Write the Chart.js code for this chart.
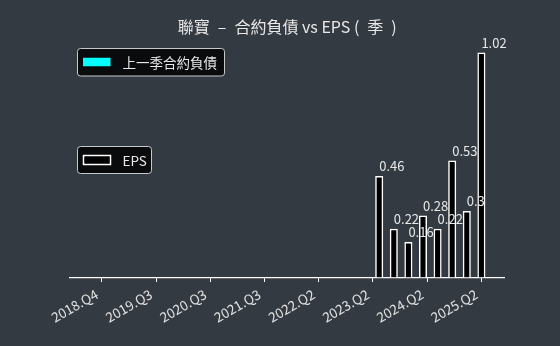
<!DOCTYPE html>
<html>
<head>
<meta charset="utf-8">
<script src="https://cdn.jsdelivr.net/npm/chart.js@4.4.1/dist/chart.umd.min.js"></script>
<style>
  html, body { margin: 0; padding: 0; background: #343a42; }
</style>
</head>
<body>
<canvas id="chart" width="560" height="346"></canvas>
<script>
var FONT = "'Noto Sans CJK TC', 'Noto Sans', sans-serif";

// 季度 (x 軸類別)
var quarters = [
    '2018.Q4',
    '2019.Q1', '2019.Q2', '2019.Q3', '2019.Q4',
    '2020.Q1', '2020.Q2', '2020.Q3', '2020.Q4',
    '2021.Q1', '2021.Q2', '2021.Q3', '2021.Q4',
    '2022.Q1', '2022.Q2', '2022.Q3', '2022.Q4',
    '2023.Q1', '2023.Q2', '2023.Q3', '2023.Q4',
    '2024.Q1', '2024.Q2', '2024.Q3', '2024.Q4',
    '2025.Q1', '2025.Q2'
];

// EPS (只有 2023.Q3 之後有值)
var eps = [
    null,
    null, null, null, null,
    null, null, null, null,
    null, null, null, null,
    null, null, null, null,
    null, null, 0.46, 0.22,
    0.16, 0.28, 0.22, 0.53,
    0.3, 1.02
];

// 上一季合約負債 (圖上看不到任何值)
var prevLiab = [
    null,
    null, null, null, null,
    null, null, null, null,
    null, null, null, null,
    null, null, null, null,
    null, null, null, null,
    null, null, null, null,
    null, null
];

// x 軸刻度位置 (類別索引) 與標籤
var tickPositions = [0, 3.714, 7.429, 11.143, 14.857, 18.571, 22.286, 26];
var tickLabels = ['2018.Q4', '2019.Q3', '2020.Q3', '2021.Q3', '2022.Q2', '2023.Q2', '2024.Q2', '2025.Q2'];

function toPoints(arr) {
    return arr.map(function(v, i) { return { x: i, y: v }; });
}

// 兩個分開的圖例框
var boxLegend = {
    id: 'boxLegend',
    afterDraw: function(chart) {
        var ctx = chart.ctx;
        var boxes = [
            { x: 77.5, y: 48.5, w: 147, h: 27.5 },
            { x: 77.5, y: 146.5, w: 74, h: 27 }
        ];
        chart.data.datasets.forEach(function(ds, i) {
            var b = boxes[i];
            ctx.save();
            ctx.beginPath();
            ctx.roundRect(b.x, b.y, b.w, b.h, 3);
            ctx.fillStyle = 'rgba(0,0,0,0.8)';
            ctx.fill();
            ctx.strokeStyle = '#c8c8c8';
            ctx.lineWidth = 1;
            ctx.stroke();
            var sy = b.y + b.h / 2 - 4.5;
            if (ds.borderWidth) {
                ctx.fillStyle = ds.backgroundColor;
                ctx.fillRect(b.x + 6, sy, 27, 9);
                ctx.strokeStyle = ds.borderColor;
                ctx.lineWidth = 1.5;
                ctx.strokeRect(b.x + 6, sy, 27, 9);
            } else {
                ctx.fillStyle = ds.backgroundColor;
                ctx.fillRect(b.x + 5.5, sy, 27.5, 8.5);
            }
            ctx.fillStyle = '#e8e8e8';
            ctx.font = '13.5px ' + FONT;
            ctx.textAlign = 'left';
            ctx.textBaseline = 'middle';
            ctx.fillText(ds.label, b.x + 45, b.y + b.h / 2 + 0.5);
            ctx.restore();
        });
    }
};

// 柱狀圖上的數值
var barValues = {
    id: 'barValues',
    afterDatasetsDraw: function(chart) {
        var ctx = chart.ctx;
        var meta = chart.getDatasetMeta(1);
        ctx.save();
        ctx.fillStyle = '#e8e8e8';
        ctx.font = '13px ' + FONT;
        ctx.textAlign = 'left';
        ctx.textBaseline = 'alphabetic';
        meta.data.forEach(function(bar, i) {
            if (eps[i] === null) return;
            ctx.fillText(String(eps[i]), bar.x, bar.y - 5);
        });
        ctx.restore();
    }
};

new Chart(document.getElementById('chart').getContext('2d'), {
    type: 'bar',
    data: {
        datasets: [{
            label: '上一季合約負債',
            data: toPoints(prevLiab),
            backgroundColor: '#00ffff',
            yAxisID: 'y1',
            grouped: false,
            barThickness: 7.4
        }, {
            label: 'EPS',
            data: toPoints(eps),
            backgroundColor: '#000000',
            borderColor: '#ffffff',
            borderWidth: 1.5,
            yAxisID: 'y',
            grouped: false,
            barThickness: 7.4
        }]
    },
    options: {
        responsive: false,
        animation: false,
        layout: { padding: { left: 70, right: 55.4, top: 0, bottom: 0 } },
        plugins: {
            legend: { display: false },
            tooltip: { enabled: false },
            title: {
                display: true,
                text: '聯寶\u2002–\u2002合約負債 vs EPS (\u2002季\u2002)',
                color: '#e8e8e8',
                font: { family: FONT, size: 16, weight: 'normal' },
                padding: { top: 17.5, bottom: 5 }
            }
        },
        scales: {
            x: {
                type: 'linear',
                offset: false,
                min: -2.18,
                max: 27.59,
                grid: { offset: false, drawOnChartArea: false, color: '#ffffff', tickLength: 4.5 },
                border: { color: '#ffffff', width: 1.2 },
                ticks: {
                    color: '#e0e0e0',
                    font: { family: FONT, size: 13.5 },
                    minRotation: 30,
                    maxRotation: 30,
                    autoSkip: false,
                    padding: 4,
                    labelOffset: -5,
                    callback: function(value) {
                        var k = tickPositions.indexOf(value);
                        return k >= 0 ? tickLabels[k] : '';
                    }
                },
                afterBuildTicks: function(scale) {
                    scale.ticks = tickPositions.map(function(v) { return { value: v }; });
                },
                afterFit: function(scale) {
                    scale.height = 68.5;
                }
            },
            y: { display: false, min: 0, max: 1.071 },
            y1: { display: false, min: 0, max: 1 }
        }
    },
    plugins: [boxLegend, barValues]
});
</script>
</body>
</html>
